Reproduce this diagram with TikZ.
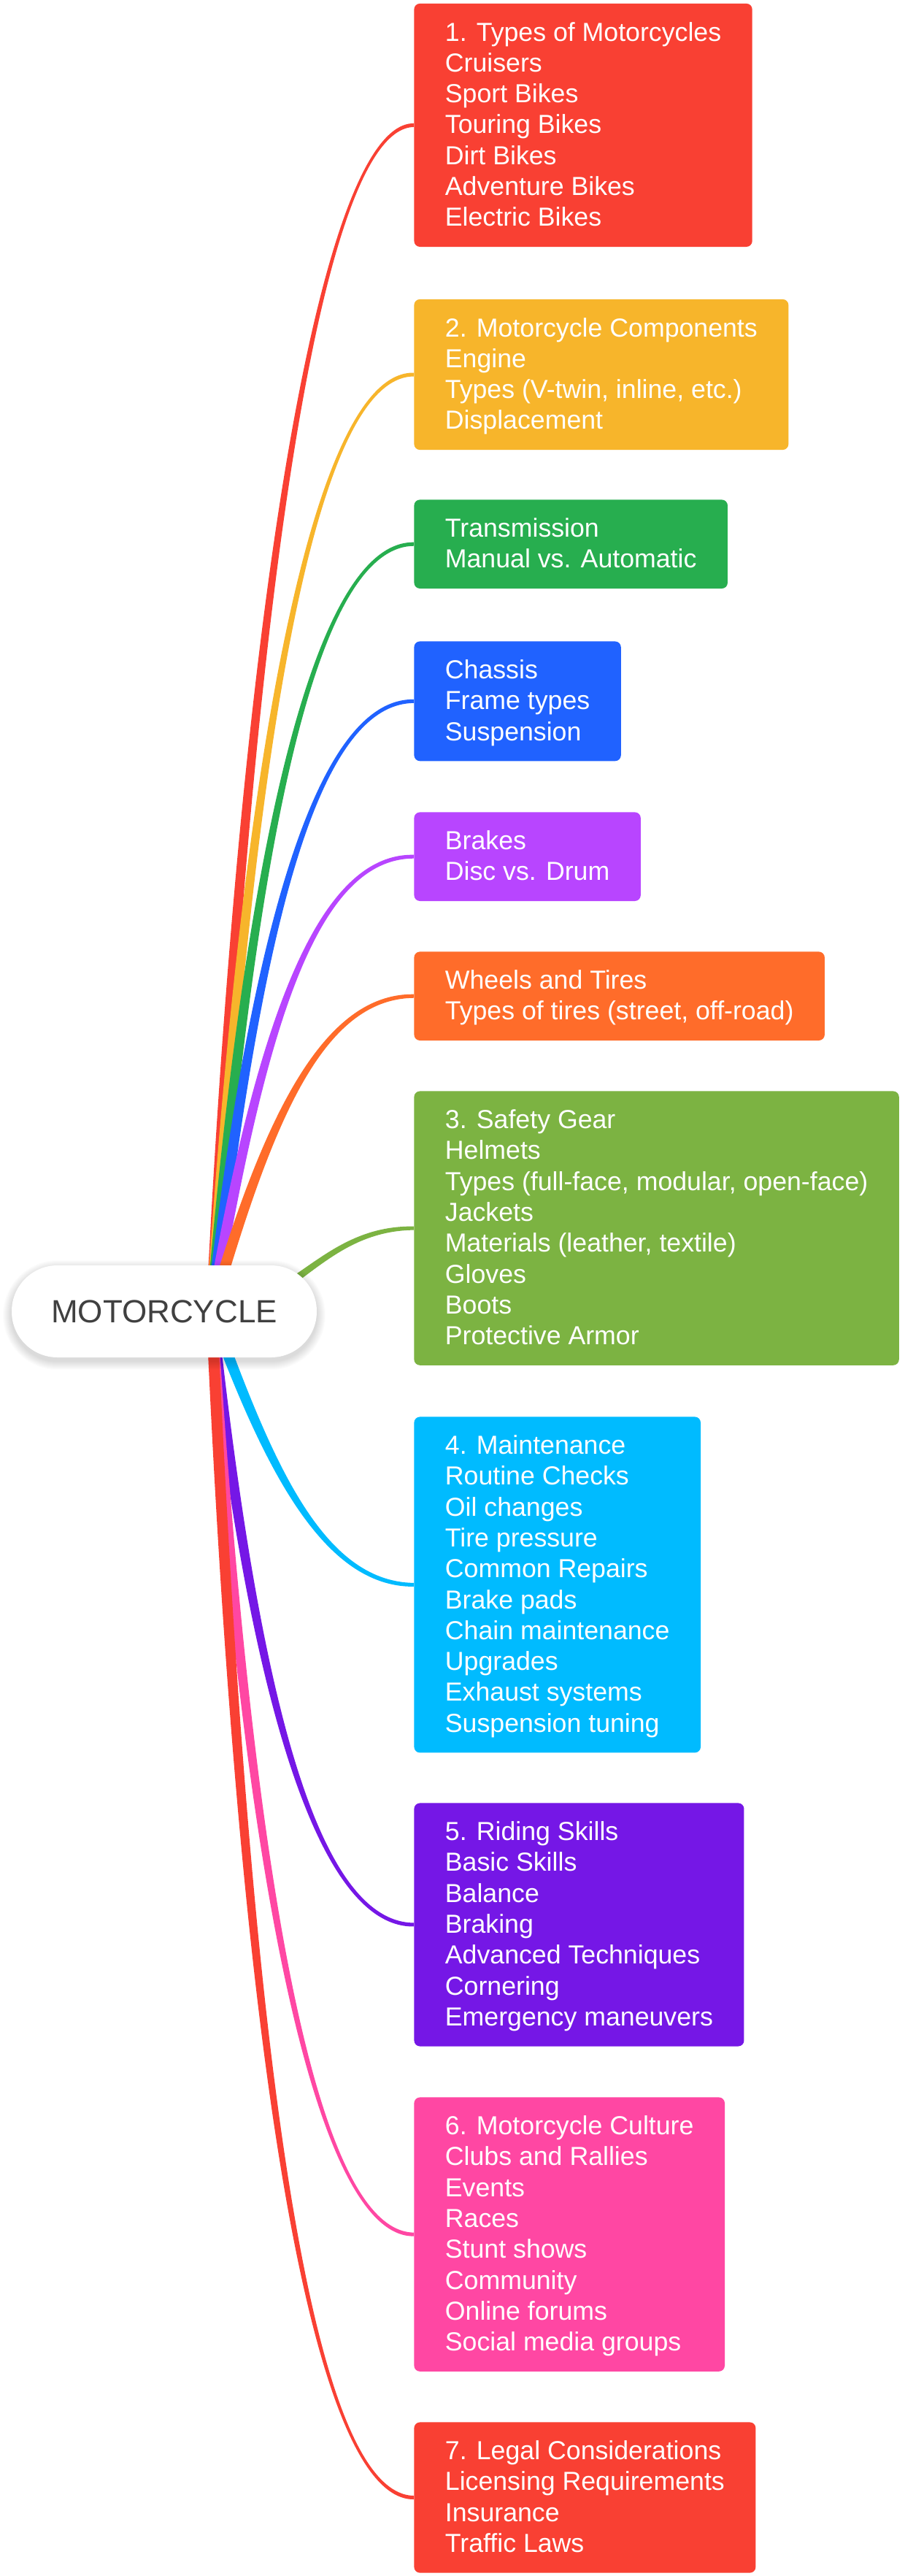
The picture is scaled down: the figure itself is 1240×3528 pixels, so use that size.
\documentclass[tikz,border=0pt]{standalone}
\usepackage{fontspec}
\setmainfont{Liberation Sans}
\usetikzlibrary{calc}
\definecolor{cRed}{HTML}{F94033}
\definecolor{cYel}{HTML}{F7B52B}
\definecolor{cGrn}{HTML}{27AE4F}
\definecolor{cBlu}{HTML}{2062FF}
\definecolor{cPur}{HTML}{B845FF}
\definecolor{cOra}{HTML}{FF6C2A}
\definecolor{cLim}{HTML}{7CB342}
\definecolor{cCya}{HTML}{00BBFF}
\definecolor{cVio}{HTML}{7517E6}
\definecolor{cPnk}{HTML}{FF47A3}
\definecolor{cTxt}{HTML}{404040}
\newcommand\boxfont{\fontsize{17.85pt}{21.15pt}\selectfont}
\newcommand\ls{\rule[-4.85pt]{0pt}{21.15pt}}
% tapered link: colour, first control, second control, target node
\newcommand\linkto[4]{%
  \fill[#1] ($(hub)!3.8pt!90:#2$) .. controls ($#2!3.6pt!-90:(hub)$) and ($#3!2pt!90:(#4.west)$) .. ($(#4.west)!1.25pt!-90:#3$)
    -- ($(#4.west)!1.25pt!90:#3$) .. controls ($#3!2pt!-90:(#4.west)$) and ($#2!3.6pt!90:(hub)$) .. ($(hub)!3.8pt!-90:#2$) -- cycle;}
\begin{document}
\begin{tikzpicture}[x=0.5pt,y=-0.5pt,
  topic/.style={anchor=north west, fill=#1, rounded corners=4pt, inner xsep=21.25pt, inner ysep=9.25pt,
    align=left, text=white, font=\boxfont},
  pill/.style={fill=white, rounded corners=31.4pt, minimum width=209pt, minimum height=63pt, inner sep=0pt,
    text=cTxt, font=\fontsize{22pt}{26pt}\selectfont}]
\useasboundingbox (0,0) rectangle (1240,3528);
\fill[white] (0,0) rectangle (1240,3528);

\node[topic=cRed] (b1) at (567,4.5) {\ls 1. Types of Motorcycles\\\ls Cruisers\\\ls Sport Bikes\\\ls Touring Bikes\\\ls Dirt Bikes\\\ls Adventure Bikes\\\ls Electric Bikes};
\node[topic=cYel] (b2) at (567,409.5) {\ls 2. Motorcycle Components\\\ls Engine\\\ls Types (V-twin, inline, etc.)\\\ls Displacement};
\node[topic=cGrn] (b3) at (567,684) {\ls Transmission\\\ls Manual vs. Automatic};
\node[topic=cBlu] (b4) at (567,878) {\ls Chassis\\\ls Frame types\\\ls Suspension};
\node[topic=cPur] (b5) at (567,1112) {\ls Brakes\\\ls Disc vs. Drum};
\node[topic=cOra] (b6) at (567,1303) {\ls Wheels and Tires\\\ls Types of tires (street, off-road)};
\node[topic=cLim] (b7) at (567,1494) {\ls 3. Safety Gear\\\ls Helmets\\\ls Types (full-face, modular, open-face)\\\ls Jackets\\\ls Materials (leather, textile)\\\ls Gloves\\\ls Boots\\\ls Protective Armor};
\node[topic=cCya] (b8) at (567,1940) {\ls 4. Maintenance\\\ls Routine Checks\\\ls Oil changes\\\ls Tire pressure\\\ls Common Repairs\\\ls Brake pads\\\ls Chain maintenance\\\ls Upgrades\\\ls Exhaust systems\\\ls Suspension tuning};
\node[topic=cVio] (b9) at (567,2469) {\ls 5. Riding Skills\\\ls Basic Skills\\\ls Balance\\\ls Braking\\\ls Advanced Techniques\\\ls Cornering\\\ls Emergency maneuvers};
\node[topic=cPnk] (b10) at (567,2872) {\ls 6. Motorcycle Culture\\\ls Clubs and Rallies\\\ls Events\\\ls Races\\\ls Stunt shows\\\ls Community\\\ls Online forums\\\ls Social media groups};
\node[topic=cRed] (b11) at (567,3317) {\ls 7. Legal Considerations\\\ls Licensing Requirements\\\ls Insurance\\\ls Traffic Laws};

\coordinate (hub) at (290,1796);
\linkto{cRed}{(338,822)}{(440,172)}{b1}
\linkto{cYel}{(340,1026)}{(430,512)}{b2}
\linkto{cGrn}{(343,1165)}{(430,745)}{b3}
\linkto{cBlu}{(348,1294)}{(430,960)}{b4}
\linkto{cPur}{(355,1420)}{(430,1172)}{b5}
\linkto{cOra}{(365,1540)}{(440,1364)}{b6}
\linkto{cLim}{(400,1796)}{(440,1682)}{b7}
\linkto{cCya}{(365,2000)}{(440,2170)}{b8}
\linkto{cVio}{(345,2300)}{(430,2636)}{b9}
\linkto{cPnk}{(338,2555)}{(430,3060)}{b10}
\linkto{cRed}{(333,2771)}{(420,3420)}{b11}

\foreach \i in {1,...,12}
  \fill[black, opacity=0.012, rounded corners={(63+\i)*0.5pt}] (16-\i,1733-\i+5) rectangle (434+\i,1859+\i+5);
\node[pill] (root) at (225,1796) {MOTORCYCLE};
\end{tikzpicture}
\end{document}
